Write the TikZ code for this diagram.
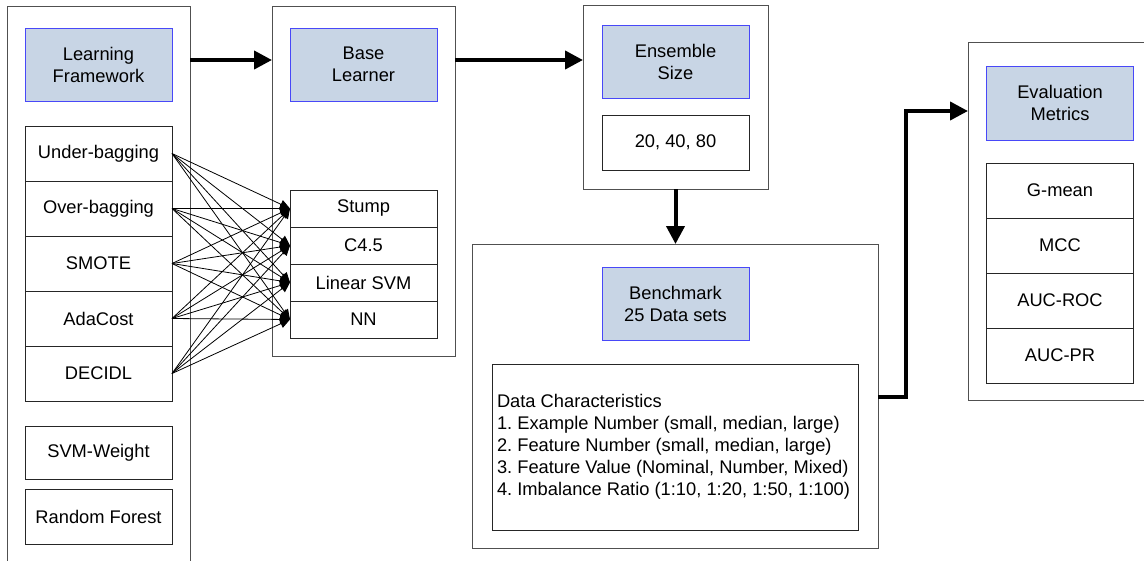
\documentclass[tikz,border=0pt]{standalone}
\usepackage{fontspec}
\setmainfont{Liberation Sans}
\usetikzlibrary{arrows.meta}
\definecolor{hdrfill}{HTML}{C8D5E5}
\definecolor{hdrline}{HTML}{4848F8}
\definecolor{frameline}{HTML}{505050}
\definecolor{boxline}{HTML}{262626}

\begin{document}
\begin{tikzpicture}[x=1pt,y=-1pt,
  every node/.style={font=\fontsize{18.3}{22}\selectfont\frenchspacing, inner sep=0pt, outer sep=0pt},
  group/.style={draw=frameline, line width=1pt, fill=white},
  hdr/.style={draw=hdrline, fill=hdrfill, line width=1pt, align=center,
              minimum width=147pt, minimum height=73pt},
  item/.style={draw=boxline, line width=0.9pt, minimum width=147pt, minimum height=55pt},
  row/.style={draw=boxline, line width=0.9pt, minimum width=147pt, minimum height=37pt},
  flow/.style={line width=4pt, -{Triangle[length=18pt,width=18pt]}},
  link/.style={line width=0.8pt, -{Triangle[length=10pt,width=9pt]}}]
\useasboundingbox (0,0) rectangle (1144,560);

% group frames
\node[group, minimum width=183pt, minimum height=566pt] (lfo) at (98.5,289) {};
\node[group, minimum width=183pt, minimum height=350pt] (blo) at (363.5,181) {};
\node[group, minimum width=185pt, minimum height=184pt] (eso) at (675.5,97) {};
\node[group, minimum width=406pt, minimum height=304pt] (bmo) at (675,396) {};
\node[group, minimum width=184pt, minimum height=358pt] (emo) at (1060,221) {};

% learning framework
\node[hdr] (lfh) at (98.5,64.5) {Learning\\Framework};
\node[item] (ub) at (98.5,153.5) {Under-bagging};
\node[item] (ob) at (98.5,208.5) {Over-bagging};
\node[item] (sm) at (98.5,263.5) {SMOTE};
\node[item] (ac) at (98.5,318.5) {AdaCost};
\node[item] (de) at (98.5,373.5) {DECIDL};
\node[item, minimum height=53pt] (sw) at (98.5,452.5) {SVM-Weight};
\node[item] (rf) at (98.5,516.5) {Random Forest};

% base learner
\node[hdr] (blh) at (363.5,64.5) {Base\\Learner};
\node[row] (st) at (363.5,208.5) {Stump};
\node[row] (c45) at (363.5,245.5) {C4.5};
\node[row] (ls) at (363.5,282.5) {Linear SVM};
\node[row] (nn) at (363.5,319.5) {NN};

% ensemble size
\node[hdr] (esh) at (675.5,61.5) {Ensemble\\Size};
\node[item] (esv) at (675.5,142.5) {20, 40, 80};

% benchmark
\node[hdr] (bmh) at (675.5,304) {Benchmark\\25 Data sets};
\node[draw=boxline, line width=0.9pt, minimum width=366pt, minimum height=166pt] (dc) at (675,447) {};
\node[anchor=west, align=left] (dct) at ([xshift=5pt]dc.west)
  {Data Characteristics\\
   1. Example Number (small, median, large)\\
   2. Feature Number (small, median, large)\\
   3. Feature Value (Nominal, Number, Mixed)\\
   4. Imbalance Ratio (1:10, 1:20, 1:50, 1:100)};

% evaluation metrics
\node[hdr, minimum height=74pt] (emh) at (1060,103) {Evaluation\\Metrics};
\node[item] (gm) at (1060,190.5) {G-mean};
\node[item] (mcc) at (1060,245.5) {MCC};
\node[item] (roc) at (1060,300.5) {AUC-ROC};
\node[item] (pr) at (1060,355.5) {AUC-PR};

% every framework feeds every base learner
\foreach \s in {ub,ob,sm,ac,de}
  \foreach \t in {st,c45,ls,nn}
    \draw[link] (\s.east) -- (\t.west);

% main flow
\coordinate (ytop) at (0,60);
\coordinate (yout) at (0,397);
\coordinate (yin) at (0,111);
\draw[flow] (lfo.east |- ytop) -- (blo.west |- ytop);
\draw[flow] (blo.east |- ytop) -- (eso.west |- ytop);
\draw[flow] (eso.south) -- (eso.south |- bmo.north);
\draw[flow] (bmo.east |- yout) -- ++(28,0) |- (emo.west |- yin);
\end{tikzpicture}
\end{document}
